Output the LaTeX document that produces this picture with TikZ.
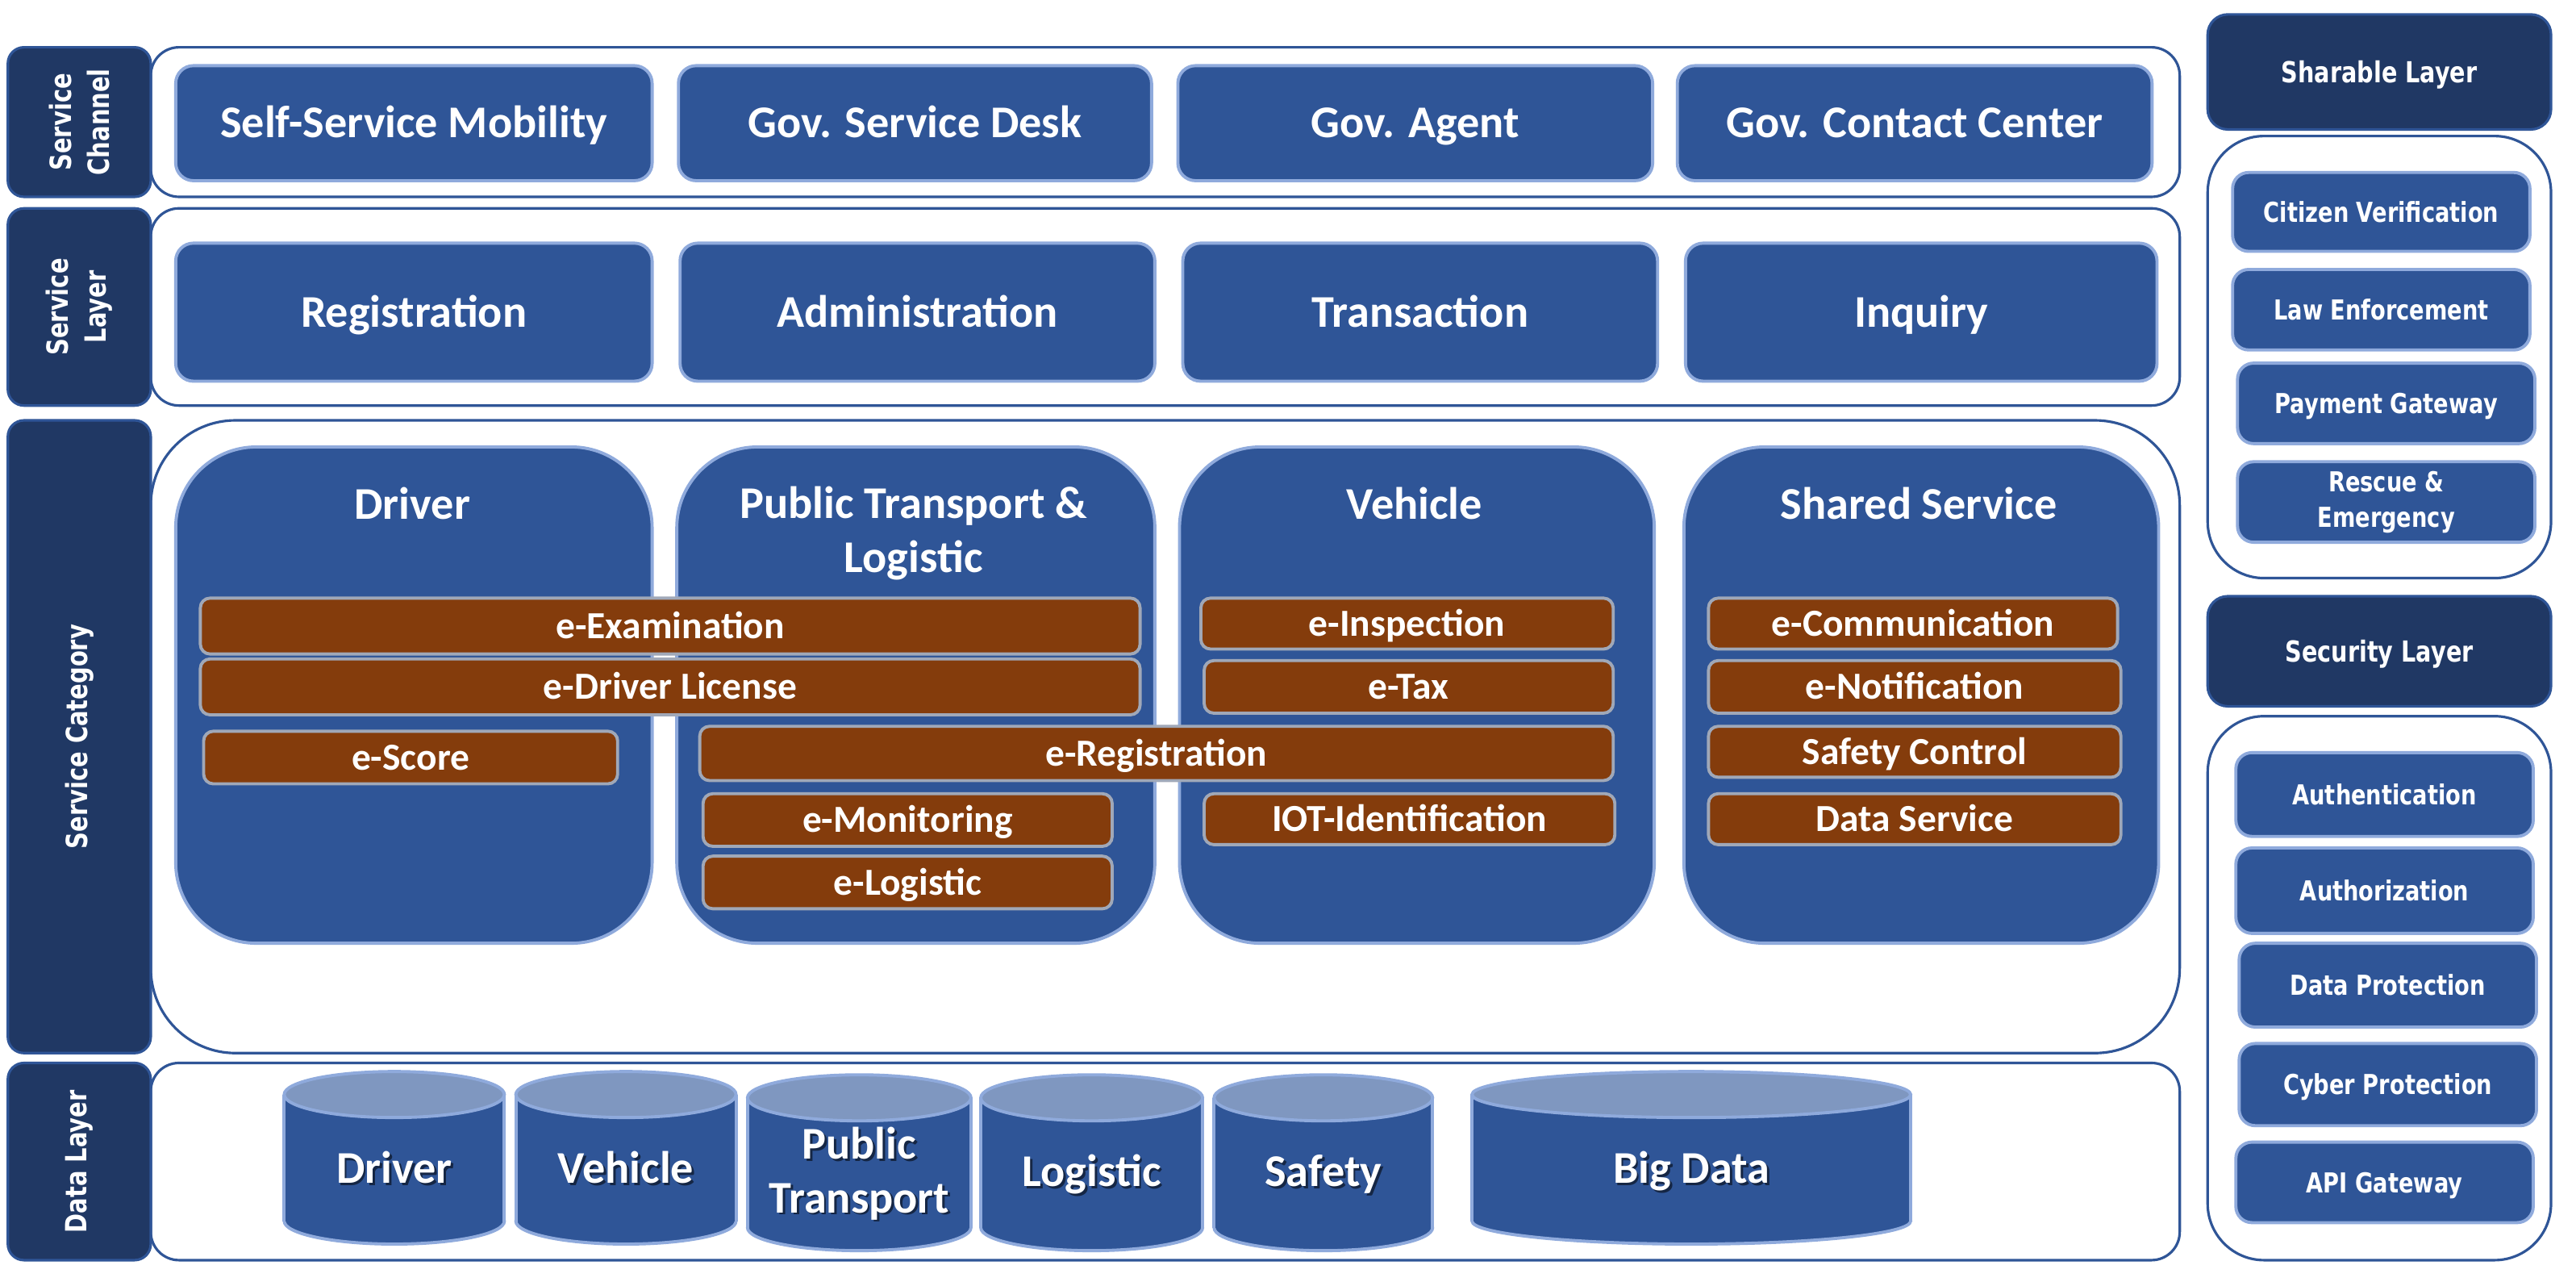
\documentclass[tikz,border=0pt]{standalone}
\usepackage{fontspec}
\usetikzlibrary{shapes.geometric}
\newfontfamily\mainf{Carlito}
\newfontfamily\sidef[FakeStretch=0.8]{DejaVu Sans}
\definecolor{cNavy}{RGB}{32,56,100}
\definecolor{cEdge}{RGB}{47,85,151}
\definecolor{cBlue}{RGB}{47,85,151}
\definecolor{cLight}{RGB}{143,170,220}
\definecolor{cBrown}{RGB}{132,60,12}
\definecolor{cGray}{RGB}{160,168,184}
\definecolor{cTop}{RGB}{127,151,192}
\tikzset{
  evA/.style={text height=12.5pt, text depth=2.2pt},
  evB/.style={text height=10.5pt, text depth=1.8pt},
  evC/.style={text height=8.5pt, text depth=1.4pt},
  evD/.style={text height=8.9pt, text depth=1.46pt},
  multi/.style={text height=, text depth=},
  lbl/.style={draw=cEdge, fill=cNavy, line width=0.9pt, rounded corners=0.2cm},
  cont/.style={draw=cEdge, fill=white, line width=0.9pt, rounded corners=0.35cm},
  bbox/.style={draw=cLight, fill=cBlue, line width=1.1pt, rounded corners=0.22cm, text=white,
    font=\mainf\bfseries\fontsize{16}{19}\selectfont, align=center, inner sep=0pt, evA},
  bigbox/.style={bbox, rounded corners=1cm},
  bar/.style={draw=cGray, fill=cBrown, line width=1.1pt, rounded corners=0.12cm, text=white,
    font=\mainf\bfseries\fontsize{13.5}{16}\selectfont, inner sep=0pt, evB},
  ttl/.style={text=white, font=\mainf\bfseries\fontsize{16}{19}\selectfont, align=center, inner sep=0pt, evA},
  sidetxt/.style={text=white, font=\sidef\bfseries\fontsize{10.3}{13.4}\selectfont, align=center, inner sep=0pt},
  hdr/.style={lbl, rounded corners=0.25cm, text=white, font=\sidef\bfseries\fontsize{10.2}{12}\selectfont, evD},
  sbox/.style={draw=cLight, fill=cBlue, line width=1.1pt, rounded corners=0.2cm, text=white,
    font=\sidef\bfseries\fontsize{9.7}{12.5}\selectfont, align=center, inner sep=0pt, evC},
  dbtxt/.style={text=white, font=\mainf\bfseries\fontsize{16}{19}\selectfont, align=center, inner sep=0pt, evA},
  dbshadow/.style={dbtxt, text=black, opacity=0.55},
}
% box: [style]{name}{x1}{y1}{x2}{y2}{text}
\newcommand\bx[7][]{\node[#1, anchor=north west, minimum width={(#5-#3)*0.02037cm},
  minimum height={(#6-#4)*0.02037cm}] (#2) at (#3,#4) {#7};}
% cylinder: [text options]{name}{x1}{y1}{x2}{y2}{text y}{text}
\newcommand\cyl[8][]{%
  \node[ellipse, draw=cLight, fill=cBlue, line width=1.1pt, inner sep=0pt,
    minimum width={(#5-#3)*0.02037cm}, minimum height={28*0.02037cm}] (#2b) at ({(#3+#5)/2},{#6-14}) {};
  \fill[cBlue] (#3,{#4+14}) rectangle (#5,{#6-14});
  \draw[cLight, line width=1.1pt] (#3,{#4+14}) -- (#3,{#6-14}) (#5,{#4+14}) -- (#5,{#6-14});
  \node[ellipse, draw=cLight, fill=cTop, line width=1.1pt, inner sep=0pt,
    minimum width={(#5-#3)*0.02037cm}, minimum height={28*0.02037cm}] (#2t) at ({(#3+#5)/2},{#4+14}) {};
  \node[dbshadow, #1, xshift=0.8pt, yshift=-0.8pt] (#2s) at ({(#3+#5)/2},#7) {#8};
  \node[dbtxt, #1] (#2) at ({(#3+#5)/2},#7) {#8};}
\begin{document}
\begin{tikzpicture}[x=0.02037cm, y=-0.02037cm]
\fill[white] (0,0) rectangle (1568,780);
\useasboundingbox (0,0) rectangle (1568,780);

% ---- containers
\bx[cont]{scC}{91}{28}{1326}{119}{}
\bx[cont]{slC}{91}{126}{1326}{246}{}
\bx[cont, rounded corners=1.05cm]{catC}{91}{255}{1326}{640}{}
\bx[cont]{dlC}{91}{646}{1326}{766}{}

% ---- left labels
\bx[lbl]{scL}{4}{28}{91}{119}{}
\node[sidetxt, rotate=90] (scLt) at (scL.center) {Service\\Channel};
\bx[lbl]{slL}{4}{126}{91}{246}{}
\node[sidetxt, rotate=90] (slLt) at (slL.center) {Service\\Layer};
\bx[lbl]{catL}{4}{255}{91}{640}{}
\node[sidetxt, rotate=90] (catLt) at (catL.center) {Service Category};
\bx[lbl]{dlL}{4}{646}{91}{766}{}
\node[sidetxt, rotate=90] (dlLt) at (dlL.center) {Data Layer};

% ---- service channel
\bx[bbox]{sc1}{106}{39}{396}{109}{Self-Service Mobility}
\bx[bbox]{sc2}{412}{39}{700}{109}{Gov. Service Desk}
\bx[bbox]{sc3}{716}{39}{1005}{109}{Gov. Agent}
\bx[bbox]{sc4}{1020}{39}{1309}{109}{Gov. Contact Center}

% ---- service layer
\bx[bbox]{sl1}{106}{147}{396}{231}{Registration}
\bx[bbox]{sl2}{413}{147}{702}{231}{Administration}
\bx[bbox]{sl3}{719}{147}{1008}{231}{Transaction}
\bx[bbox]{sl4}{1025}{147}{1312}{231}{Inquiry}

% ---- service category
\bx[bigbox]{cat1}{106}{271}{396}{573}{}
\bx[bigbox]{cat2}{411}{271}{702}{573}{}
\bx[bigbox]{cat3}{717}{271}{1006}{573}{}
\bx[bigbox]{cat4}{1024}{271}{1313}{573}{}
\node[ttl] (cat1t) at (251,307) {Driver};
\node[ttl, multi] (cat2t) at (556,324.5) {Public Transport \&\\Logistic};
\node[ttl] (cat3t) at (861,307) {Vehicle};
\node[ttl] (cat4t) at (1168,307) {Shared Service};

\bx[bar]{b1}{121}{363}{693}{397}{e-Examination}
\bx[bar]{b2}{121}{400}{693}{434}{e-Driver License}
\bx[bar]{b3}{123}{444}{375}{476}{e-Score}
\bx[bar]{b4}{425}{441}{981}{474}{e-Registration}
\bx[bar]{b5}{427}{482}{676}{514}{e-Monitoring}
\bx[bar]{b6}{427}{520}{676}{552}{e-Logistic}
\bx[bar]{b7}{730}{363}{981}{394}{e-Inspection}
\bx[bar]{b8}{732}{401}{981}{433}{e-Tax}
\bx[bar]{b9}{732}{482}{982}{513}{IOT-Identification}
\bx[bar]{b10}{1039}{363}{1288}{394}{e-Communication}
\bx[bar]{b11}{1039}{401}{1290}{433}{e-Notification}
\bx[bar]{b12}{1039}{441}{1290}{472}{Safety Control}
\bx[bar]{b13}{1039}{482}{1290}{513}{Data Service}

% ---- data layer
\cyl{db1}{173}{652}{307}{757}{711}{Driver}
\cyl{db2}{314}{652}{448}{757}{711}{Vehicle}
\cyl[multi]{db3}{455}{654}{591}{761}{714}{Public\\Transport}
\cyl{db4}{597}{654}{732}{761}{713}{Logistic}
\cyl{db5}{739}{654}{872}{761}{713}{Safety}
\cyl{db6}{896}{652}{1163}{757}{711}{Big Data}

% ---- sharable layer
\bx[hdr]{shH}{1343}{8}{1552}{78}{Sharable Layer}
\bx[cont, rounded corners=0.7cm]{shC}{1343}{82}{1552}{351}{}
\bx[sbox]{sh1}{1358}{104}{1539}{152}{Citizen Verification}
\bx[sbox]{sh2}{1358}{163}{1539}{212}{Law Enforcement}
\bx[sbox]{sh3}{1361}{220}{1542}{269}{Payment Gateway}
\bx[sbox, multi]{sh4}{1361}{280}{1542}{329}{Rescue \&\\Emergency}

% ---- security layer
\bx[hdr]{seH}{1343}{362}{1552}{429}{Security Layer}
\bx[cont, rounded corners=0.7cm]{seC}{1343}{435}{1552}{766}{}
\bx[sbox]{se1}{1360}{457}{1541}{508}{Authentication}
\bx[sbox]{se2}{1360}{515}{1541}{567}{Authorization}
\bx[sbox]{se3}{1362}{573}{1543}{624}{Data Protection}
\bx[sbox]{se4}{1362}{634}{1543}{684}{Cyber Protection}
\bx[sbox]{se5}{1360}{694}{1541}{743}{API Gateway}
\end{tikzpicture}
\end{document}
